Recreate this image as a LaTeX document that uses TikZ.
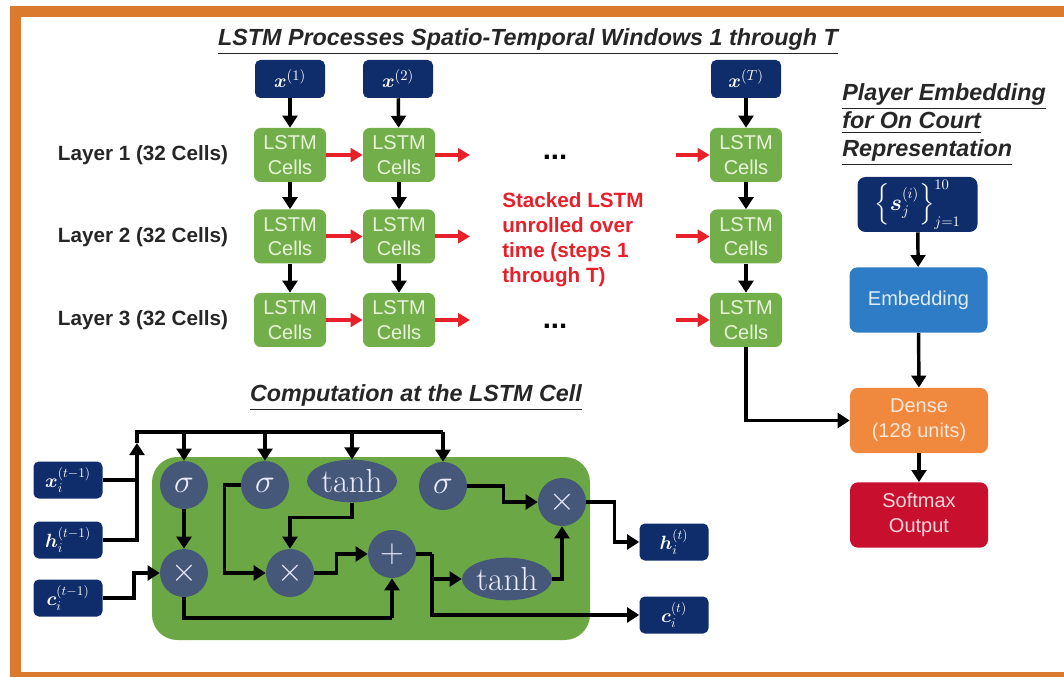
\documentclass[tikz,border=0pt]{standalone}
\usepackage{amsmath}
\usepackage{fontspec}
\setsansfont{Liberation Sans}
\usetikzlibrary{arrows.meta,shapes.geometric}
\definecolor{navy}{HTML}{0F2C6B}
\definecolor{lgreen}{HTML}{72AE4A}
\definecolor{bgreen}{HTML}{6BA845}
\definecolor{slate}{HTML}{46587A}
\definecolor{embc}{HTML}{2E7CC6}
\definecolor{densec}{HTML}{F0883E}
\definecolor{smaxc}{HTML}{C8102E}
\definecolor{framec}{HTML}{DB7A2C}
\definecolor{redc}{HTML}{E8202A}
\definecolor{celltxt}{HTML}{E8F4DA}
\begin{document}
\begin{tikzpicture}[x=0.75pt,y=-0.75pt,
  ttl/.style={font=\sffamily\bfseries\itshape\fontsize{17.5}{21}\selectfont, text=black!85, inner sep=0pt},
  lay/.style={font=\sffamily\bfseries\fontsize{15.5}{18}\selectfont, text=black!85, inner sep=0pt},
  cellbox/.style={fill=lgreen, rounded corners=5pt, minimum width=54pt, minimum height=40.5pt, inner sep=0pt, align=center, text=celltxt, font=\sffamily\fontsize{15}{18.5}\selectfont},
  xbox/.style={fill=navy, rounded corners=4pt, minimum width=52.5pt, minimum height=28.5pt, inner sep=0pt, text=white, font=\fontsize{15}{18}\selectfont},
  iobox/.style={fill=navy, rounded corners=4pt, minimum width=51.75pt, minimum height=27.75pt, inner sep=0pt, text=white, font=\fontsize{14}{16}\selectfont},
  rbox/.style={rounded corners=6pt, minimum width=103.5pt, minimum height=49pt, inner sep=0pt, align=center, font=\sffamily\fontsize{15}{19}\selectfont},
  op/.style={circle, fill=slate, minimum size=36pt, inner sep=0pt, text=white!92!blue, font=\fontsize{24}{24}\selectfont},
  el/.style={ellipse, fill=slate, minimum width=67.5pt, minimum height=32pt, inner sep=0pt, text=white!92!blue, font=\rmfamily\fontsize{25}{25}\selectfont},
  arr/.style={draw=black, line width=2.6pt, -{Triangle[length=9pt,width=11pt]}},
  ln/.style={draw=black, line width=2.6pt},
  rarr/.style={draw=redc, line width=3pt, -{Triangle[length=9pt,width=10pt]}}
]
\useasboundingbox (0,0) rectangle (1064,677);
% orange frame
\fill[framec] (10,6) rectangle (1064,17);
\fill[framec] (10,6) rectangle (21,677);
\fill[framec] (10,672) rectangle (1064,677);

% titles
\node[ttl] (t1) at (528,42) {\underline{LSTM Processes Spatio-Temporal Windows 1 through T}};
\node[ttl, anchor=west, align=left] (t3) at (842,125) {\underline{Player Embedding}\\\underline{for On Court}\\\underline{Representation}};
\node[ttl] (t2) at (416,398) {\underline{Computation at the LSTM Cell}};

% inputs
\node[xbox] (x1) at (290,79) {$\boldsymbol{x}^{(1)}$};
\node[xbox] (x2) at (398,79) {$\boldsymbol{x}^{(2)}$};
\node[xbox] (xT) at (746,79) {$\boldsymbol{x}^{(T)}$};

% layer labels
\node[lay] (l1) at (143,155) {Layer 1 (32 Cells)};
\node[lay] (l2) at (143,237) {Layer 2 (32 Cells)};
\node[lay] (l3) at (143,320) {Layer 3 (32 Cells)};

% LSTM cells
\node[cellbox] (c11) at (290,155) {LSTM\\Cells};
\node[cellbox] (c12) at (399,155) {LSTM\\Cells};
\node[cellbox] (c1T) at (746,155) {LSTM\\Cells};
\node[cellbox] (c21) at (290,236.5) {LSTM\\Cells};
\node[cellbox] (c22) at (399,236.5) {LSTM\\Cells};
\node[cellbox] (c2T) at (746,236.5) {LSTM\\Cells};
\node[cellbox] (c31) at (290,320) {LSTM\\Cells};
\node[cellbox] (c32) at (399,320) {LSTM\\Cells};
\node[cellbox] (c3T) at (746,320) {LSTM\\Cells};

\node[font=\sffamily\bfseries\fontsize{22}{22}\selectfont, inner sep=0pt] (d1) at (555,157) {...};
\node[font=\sffamily\bfseries\fontsize{22}{22}\selectfont, inner sep=0pt] (d3) at (555,326) {...};
\node[font=\sffamily\bfseries\fontsize{15.5}{18.75}\selectfont, text=redc, align=left, anchor=west, inner sep=0pt] (rt) at (502,240) {Stacked LSTM\\unrolled over\\time (steps 1\\through T)};

% vertical arrows
\draw[arr] (x1) -- (c11);
\draw[arr] (x2) -- (c12);
\draw[arr] (xT) -- (c1T);
\draw[arr] (c11) -- (c21);
\draw[arr] (c12) -- (c22);
\draw[arr] (c1T) -- (c2T);
\draw[arr] (c21) -- (c31);
\draw[arr] (c22) -- (c32);
\draw[arr] (c2T) -- (c3T);

% red arrows
\coordinate (o1) at (470,155);
\coordinate (o2) at (470,236.5);
\coordinate (o3) at (470,320);
\coordinate (i1) at (676,155);
\coordinate (i2) at (676,236.5);
\coordinate (i3) at (676,320);
\draw[rarr] (c11) -- (c12);
\draw[rarr] (c21) -- (c22);
\draw[rarr] (c31) -- (c32);
\draw[rarr] (c12) -- (o1);
\draw[rarr] (c22) -- (o2);
\draw[rarr] (c32) -- (o3);
\draw[rarr] (i1) -- (c1T);
\draw[rarr] (i2) -- (c2T);
\draw[rarr] (i3) -- (c3T);

% right column
\node[rbox, fill=navy, text=white, minimum width=90pt, minimum height=41.25pt, font=\fontsize{16}{18}\selectfont] (s) at (917.5,204.5) {$\displaystyle\left\{\boldsymbol{s}_j^{(i)}\right\}_{j=1}^{10}$};
\node[rbox, fill=embc, text=white!85!embc] (emb) at (918.5,300) {Embedding};
\node[rbox, fill=densec, text=white!80!densec] (dense) at (919,420.5) {Dense\\(128 units)};
\node[rbox, fill=smaxc, text=white!82!smaxc] (smax) at (919,515) {Softmax\\Output};
\draw[arr] (s) -- (emb);
\draw[arr] (emb) -- (dense);
\draw[arr] (dense) -- (smax);
\draw[arr] (c3T.south) |- (dense.west);

% LSTM cell computation
\node[fill=bgreen, rounded corners=19pt, minimum width=328.5pt, minimum height=137.25pt, inner sep=0pt] (bg) at (371,548.5) {};
\node[iobox] (xin) at (68,480) {$\boldsymbol{x}_i^{(t-1)}$};
\node[iobox] (hin) at (68,540) {$\boldsymbol{h}_i^{(t-1)}$};
\node[iobox] (cin) at (68,598) {$\boldsymbol{c}_i^{(t-1)}$};
\node[iobox] (hout) at (674,542) {$\boldsymbol{h}_i^{(t)}$};
\node[iobox] (cout) at (674,615) {$\boldsymbol{c}_i^{(t)}$};

\node[op] (s1) at (184,485) {$\sigma$};
\node[op] (s2) at (265,485) {$\sigma$};
\node[el] (th1) at (352,481) {tanh};
\node[op] (s3) at (443,486) {$\sigma$};
\node[op] (m1) at (184,573) {$\times$};
\node[op] (m2) at (290,573) {$\times$};
\node[op] (pl) at (392,554) {$+$};
\node[el] (th2) at (507,579) {tanh};
\node[op] (m3) at (562,502) {$\times$};

\coordinate (busy) at (0,432);
\coordinate (bl) at (137,432);
\coordinate (br) at (443,432);
\coordinate (up) at (137,443);
\coordinate (k1) at (392,618);
\coordinate (sp) at (432,554);

\draw[ln] (xin.east) -- (137,480);
\draw[arr] (hin.east) -| (up);
\draw[ln] (up) -- (bl) -- (br);
\draw[arr] (s1 |- busy) -- (s1);
\draw[arr] (s2 |- busy) -- (s2);
\draw[arr] (th1 |- busy) -- (th1);
\draw[arr] (br) -- (s3);
\draw[arr] (cin.east) -- ++(31,0) |- (m1.west);
\draw[arr] (s1) -- (m1);
\draw[arr] (s2.west) -- ++(-16,0) |- (m2.west);
\draw[arr] (th1.south) -- ++(0,15) -| (m2.north);
\draw[arr] (m2.east) -- ++(22,0) |- (pl.west);
\draw[ln] (m1.south) |- (k1);
\draw[arr] (k1) -- (pl.south);
\draw[ln] (pl.east) -- (sp);
\draw[arr] (sp) |- (th2.west);
\draw[arr] (sp) |- (cout.west);
\draw[arr] (th2.east) -| (m3.south);
\draw[arr] (s3.east) -- ++(36,0) |- (m3.west);
\draw[arr] (m3.east) -- ++(28,0) |- (hout.west);
\end{tikzpicture}
\end{document}
